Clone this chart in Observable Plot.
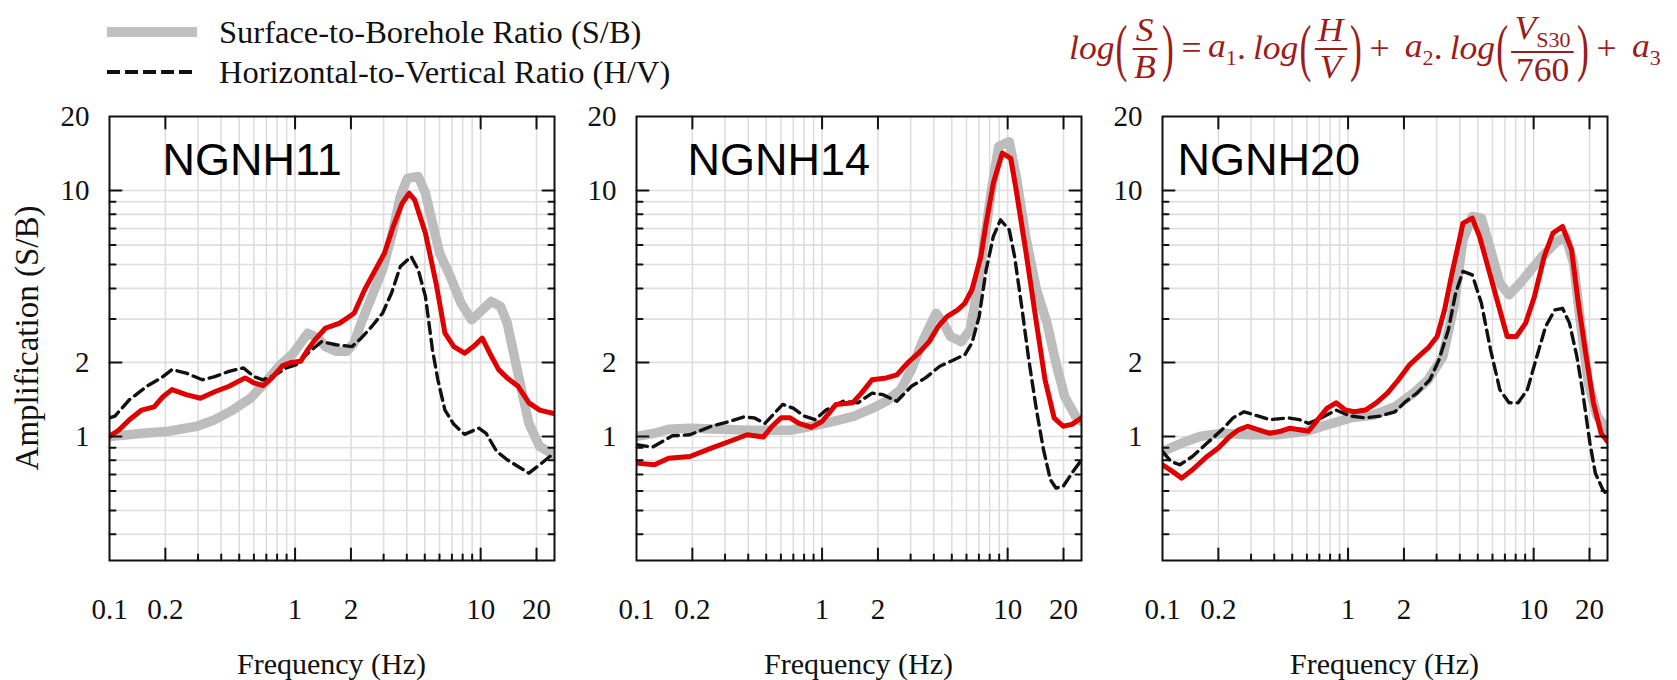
<!DOCTYPE html>
<html><head><meta charset="utf-8">
<script src="https://cdn.jsdelivr.net/npm/d3@7"></script>
<script src="https://cdn.jsdelivr.net/npm/@observablehq/plot@0.6"></script>
<style>
body{margin:0;background:#fff;}
#wrap{position:relative;width:1677px;height:680px;overflow:hidden;font-family:"Liberation Serif","Times New Roman",serif;color:#111;}
.abs{position:absolute;}
.leg{position:absolute;left:219px;font-size:32.5px;line-height:40px;white-space:nowrap;}
.xt{position:absolute;width:300px;text-align:center;font-size:30px;line-height:36px;white-space:nowrap;}
#ylab{position:absolute;font-size:33px;line-height:36px;white-space:nowrap;transform-origin:center center;}
#formula{position:absolute;left:1069px;display:flex;align-items:center;color:#9b1c1c;font-family:"Liberation Serif",serif;font-style:italic;font-size:33px;white-space:nowrap;transform-origin:left center;}
#formula .p{display:inline-block;font-style:normal;transform:scaleY(1.95);margin:0 1px;}
#formula .fr{display:inline-flex;flex-direction:column;align-items:center;margin:0 2px;}
#formula .fr .n{border-bottom:2px solid currentColor;padding:0 3px;line-height:1.05;}
#formula .fr .d{line-height:1.05;padding:0 3px;}
#formula .up{font-style:normal;}
#formula sub{font-size:0.62em;font-style:normal;}
#formula .op{font-style:normal;margin:0 6px;}
</style></head><body><div id="wrap"></div>
<script>
// ---------- data ----------
const stations = ["NGNH11", "NGNH14", "NGNH20"];
const xTickLabels = [0.1, 0.2, 1, 2, 10, 20];
const yTickLabels = [1, 2, 10, 20];
const seriesNames = ["Surface-to-Borehole Ratio (S/B)", "Horizontal-to-Vertical Ratio (H/V)"];

// NGNH11
const sb11F = [0.1,0.152,0.208,0.296,0.369,0.461,0.575,0.687,0.819,0.978,1.17,1.33,1.46,1.66,1.90,2.08,2.27,2.59,2.96,3.38,3.69,4.03,4.61,5.04,5.50,6.01,6.86,7.84,8.95,10.2,11.4,12.8,13.9,15.2,16.6,18.2,20.8,24.8];
const sb11V = [1.0,1.03,1.05,1.10,1.17,1.28,1.43,1.65,1.93,2.18,2.63,2.51,2.32,2.22,2.22,2.40,2.89,3.71,4.76,6.92,9.45,11.2,11.4,9.75,7.37,5.56,4.47,3.48,2.98,3.27,3.54,3.38,2.89,2.11,1.55,1.13,0.911,0.842];
const hv11F = [0.1,0.107,0.128,0.159,0.190,0.217,0.259,0.316,0.369,0.441,0.526,0.601,0.672,0.784,0.896,1.02,1.17,1.39,1.66,2.03,2.27,2.59,2.96,3.31,3.69,4.22,4.61,5.04,5.50,5.88,6.42,7.17,8.19,9.78,10.7,12.2,13.9,15.9,18.2,20.8,24.8];
const hv11V = [1.19,1.21,1.41,1.60,1.73,1.87,1.81,1.70,1.75,1.84,1.90,1.75,1.70,1.78,1.90,1.96,2.18,2.43,2.36,2.32,2.51,2.80,3.17,3.83,4.91,5.39,4.76,3.71,2.25,1.70,1.28,1.12,1.02,1.08,1.03,0.869,0.804,0.755,0.709,0.767,0.855];
const md11F = [0.1,0.112,0.128,0.149,0.174,0.194,0.217,0.259,0.309,0.369,0.441,0.538,0.601,0.672,0.750,0.857,0.957,1.07,1.17,1.28,1.46,1.74,2.08,2.37,2.71,3.03,3.38,3.78,4.12,4.41,5.04,5.75,6.42,7.17,8.19,9.15,10.2,11.2,12.5,13.9,15.9,18.2,20.8,24.8];
const md11V = [1.0,1.06,1.17,1.28,1.32,1.45,1.55,1.48,1.43,1.52,1.60,1.73,1.65,1.61,1.73,1.94,2.00,2.02,2.25,2.47,2.76,2.89,3.17,3.95,4.76,5.56,7.14,8.88,9.75,9.17,6.71,4.20,2.63,2.32,2.18,2.32,2.51,2.18,1.87,1.73,1.60,1.37,1.28,1.24];

// NGNH14
const sb14F = [0.1,0.125,0.149,0.194,0.289,0.395,0.514,0.672,0.875,1.14,1.49,1.86,2.22,2.65,3.03,3.45,3.95,4.12,4.51,4.92,5.62,6.28,6.86,7.50,8.19,8.95,10.2,11.2,12.5,14.3,16.3,18.2,20.3,23.2,25];
const sb14V = [1.0,1.03,1.07,1.08,1.07,1.06,1.06,1.06,1.10,1.15,1.21,1.30,1.39,1.55,1.87,2.40,2.98,3.17,2.89,2.55,2.43,2.71,3.95,6.30,10.1,15.1,15.8,11.1,6.50,3.95,2.89,1.99,1.45,1.21,1.15];
const hv14F = [0.1,0.122,0.156,0.194,0.253,0.316,0.378,0.431,0.492,0.614,0.702,0.801,0.915,1.05,1.30,1.56,1.86,2.12,2.53,3.03,3.61,4.31,5.14,5.88,6.42,7.02,7.66,8.37,9.15,10.2,10.9,11.9,13.0,14.3,15.6,17.0,18.2,19.9,22.2,25];
const hv14V = [0.925,0.905,1.006,1.016,1.10,1.15,1.20,1.19,1.13,1.35,1.30,1.21,1.17,1.28,1.39,1.37,1.50,1.48,1.39,1.60,1.73,1.93,2.05,2.15,2.40,3.07,4.76,6.50,7.60,6.92,5.39,3.38,2.05,1.28,0.883,0.667,0.617,0.626,0.709,0.804];
const md14F = [0.1,0.125,0.149,0.194,0.253,0.316,0.395,0.482,0.538,0.601,0.672,0.750,0.875,1.0,1.19,1.46,1.63,1.86,2.22,2.53,2.89,3.31,3.78,4.22,4.71,5.38,5.88,6.42,7.17,7.66,8.37,9.36,10.4,11.2,12.5,14.3,15.9,17.8,19.9,22.2,25];
const md14V = [0.779,0.767,0.816,0.829,0.897,0.954,1.016,0.994,1.10,1.19,1.19,1.13,1.09,1.15,1.35,1.37,1.50,1.70,1.73,1.78,1.99,2.18,2.43,2.80,3.07,3.27,3.48,3.95,5.39,7.37,10.7,14.2,13.5,9.75,5.74,2.89,1.70,1.19,1.10,1.12,1.19];

// NGNH20
const sb20F = [0.1,0.127,0.159,0.209,0.288,0.415,0.598,0.787,1.03,1.36,1.79,2.25,2.70,3.24,3.72,4.16,4.67,5.23,5.86,6.57,7.37,8.45,9.69,11.1,13.3,14.9,16.4,17.9,19.7,22.0,25];
const sb20V = [0.869,0.940,1.0,1.03,1.016,1.016,1.05,1.12,1.19,1.22,1.32,1.50,1.70,2.11,3.38,6.30,7.84,7.72,5.74,4.20,3.77,4.20,4.76,5.39,6.20,6.50,5.07,2.89,1.65,1.21,1.064];
const hv20F = [0.1,0.111,0.124,0.145,0.174,0.209,0.240,0.275,0.316,0.379,0.476,0.546,0.612,0.718,0.862,1.03,1.24,1.49,1.79,2.05,2.35,2.76,3.09,3.47,3.80,4.16,4.67,5.23,5.86,6.57,7.37,8.25,9.25,10.4,11.6,13.0,14.3,15.6,17.1,18.3,20.1,21.5,23.6,25];
const hv20V = [0.869,0.791,0.767,0.829,0.940,1.064,1.19,1.26,1.22,1.17,1.19,1.17,1.13,1.19,1.28,1.21,1.19,1.21,1.26,1.39,1.50,1.70,2.05,2.71,3.83,4.69,4.54,3.48,2.25,1.55,1.37,1.37,1.55,2.11,2.80,3.27,3.32,2.89,2.11,1.55,0.940,0.709,0.607,0.579];
const md20F = [0.1,0.113,0.127,0.145,0.174,0.200,0.230,0.257,0.288,0.330,0.379,0.435,0.487,0.546,0.612,0.687,0.769,0.862,0.966,1.08,1.24,1.42,1.63,1.87,2.15,2.46,2.70,3.02,3.31,3.63,3.98,4.16,4.67,5.11,5.73,6.42,7.20,8.07,9.05,10.1,11.4,12.7,14.3,16.0,17.5,19.2,21.0,23.1,25];
const md20V = [0.767,0.721,0.677,0.732,0.829,0.897,1.0,1.064,1.10,1.064,1.03,1.05,1.08,1.064,1.05,1.17,1.30,1.37,1.28,1.26,1.28,1.37,1.50,1.70,1.96,2.15,2.29,2.55,3.27,4.61,6.30,7.37,7.72,6.50,4.76,3.48,2.55,2.55,2.89,3.71,5.39,6.71,7.14,5.74,3.38,2.11,1.37,1.03,0.954];

// grid / tick values
const gridXVals = [0.2,0.3,0.4,0.5,0.6,0.7,0.8,0.9,1,2,3,4,5,6,7,8,9,10,20];
const gridYVals = [0.4,0.5,0.6,0.7,0.8,0.9,1,2,3,4,5,6,7,8,9,10];
const majorX = [0.2,1,2,10,20];
const minorX = [0.3,0.4,0.5,0.6,0.7,0.8,0.9,3,4,5,6,7,8,9];
const majorY = [1,2,10];
const minorY = [0.4,0.5,0.6,0.7,0.8,0.9,3,4,5,6,7,8,9];

// ---------- layout ----------
const wrap = document.getElementById("wrap");
const panelLefts = [109, 636, 1162];
const panelW = 445, panelTop = 116, panelH = 444;
const mL = 60, mR = 15, mT = 20, mB = 70;
const labelDx = [53, 51, 15];
const panels = [
  [sb11F, sb11V, hv11F, hv11V, md11F, md11V],
  [sb14F, sb14V, hv14F, hv14V, md14F, md14V],
  [sb20F, sb20V, hv20F, hv20V, md20F, md20V]
];
const zip = (F, V) => F.map((f, k) => ({f, v: V[k]}));
const fmt = d3.format("~g");
const tickShape = {draw(ctx, l) { ctx.moveTo(0, 0); ctx.lineTo(0, -l); }};
const tk = {stroke: "#111", strokeWidth: 2, anchor: "start", shape: tickShape};

panels.forEach((p, i) => {
  const [sbF, sbV, hvF, hvV, mdF, mdV] = p;
  const svg = Plot.plot({
    width: mL + panelW + mR, height: mT + panelH + mB,
    marginLeft: mL, marginRight: mR, marginTop: mT, marginBottom: mB,
    x: {type: "log", domain: [0.1, 25]},
    y: {type: "log", domain: [0.313, 20]},
    style: {fontFamily: '"Liberation Serif", "Times New Roman", serif', fontSize: "29px", color: "#111", background: "transparent", overflow: "visible"},
    marks: [
      Plot.gridX(gridXVals, {stroke: "#dedede", strokeOpacity: 1, strokeWidth: 1.6}),
      Plot.gridY(gridYVals, {stroke: "#dedede", strokeOpacity: 1, strokeWidth: 1.6}),
      Plot.line(zip(sbF, sbV), {x: "f", y: "v", stroke: "#bdbdbd", strokeWidth: 9.5, strokeLinejoin: "round", clip: true}),
      Plot.line(zip(hvF, hvV), {x: "f", y: "v", stroke: "#111", strokeWidth: 3.4, strokeDasharray: "11,6", clip: true}),
      Plot.line(zip(mdF, mdV), {x: "f", y: "v", stroke: "#e00000", strokeWidth: 5, strokeLinejoin: "round", clip: true}),
      Plot.frame({stroke: "#111", strokeWidth: 2}),
      // inward ticks
      Plot.vector(majorX, {x: d => d, frameAnchor: "bottom", rotate: 0, length: 12, ...tk}),
      Plot.vector(minorX, {x: d => d, frameAnchor: "bottom", rotate: 0, length: 6, ...tk}),
      Plot.vector(majorX, {x: d => d, frameAnchor: "top", rotate: 180, length: 12, ...tk}),
      Plot.vector(majorY, {y: d => d, frameAnchor: "left", rotate: 90, length: 12, ...tk}),
      Plot.vector(minorY, {y: d => d, frameAnchor: "left", rotate: 90, length: 6, ...tk}),
      Plot.vector(majorY, {y: d => d, frameAnchor: "right", rotate: 270, length: 12, ...tk}),
      Plot.vector(minorY, {y: d => d, frameAnchor: "right", rotate: 270, length: 6, ...tk}),
      // tick labels
      Plot.axisX(xTickLabels, {anchor: "bottom", tickSize: 0, tickPadding: 38, tickFormat: fmt, label: null}),
      Plot.axisY(yTickLabels, {anchor: "left", tickSize: 0, tickPadding: 20, tickFormat: fmt, label: null}),
      Plot.text([stations[i]], {frameAnchor: "top-left", dx: labelDx[i], dy: 27, lineAnchor: "top", textAnchor: "start", text: d => d, fontFamily: '"Liberation Sans", Arial, sans-serif', fontSize: 45, fill: "#000"})
    ]
  });
  svg.style.position = "absolute";
  svg.style.left = (panelLefts[i] - mL) + "px";
  svg.style.top = (panelTop - mT) + "px";
  wrap.appendChild(svg);

  const xl = document.createElement("div");
  xl.className = "xt";
  xl.textContent = "Frequency (Hz)";
  xl.style.left = (panelLefts[i] + panelW / 2 - 150) + "px";
  xl.style.top = (664 - 18) + "px";
  wrap.appendChild(xl);
});

// y axis title
const yl = document.createElement("div");
yl.id = "ylab";
yl.textContent = "Amplification (S/B)";
wrap.appendChild(yl);
const ylw = yl.offsetWidth;
yl.style.left = (27 - ylw / 2) + "px";
yl.style.top = (panelTop + panelH / 2 - 18) + "px";
yl.style.transform = "rotate(-90deg)";

// legend
const legSvg = d3.select(wrap).append("svg").attr("class", "abs")
  .style("left", "105px").style("top", "20px").attr("width", 96).attr("height", 70);
legSvg.append("line").attr("x1", 2).attr("x2", 92).attr("y1", 12).attr("y2", 12)
  .attr("stroke", "#c0c0c0").attr("stroke-width", 10);
legSvg.append("line").attr("x1", 2).attr("x2", 92).attr("y1", 52).attr("y2", 52)
  .attr("stroke", "#111").attr("stroke-width", 3.8).attr("stroke-dasharray", "13,5");
seriesNames.forEach((s, k) => {
  const d = document.createElement("div");
  d.className = "leg";
  d.textContent = s;
  d.style.top = (32 + 40 * k - 20) + "px";
  wrap.appendChild(d);
});

// formula
const fm = document.createElement("div");
fm.id = "formula";
fm.innerHTML =
  '<span>log</span><span class="p">(</span><span class="fr"><span class="n">S</span><span class="d">B</span></span><span class="p">)</span>' +
  '<span class="op">=</span><span>a<sub>1</sub></span><span class="up">.</span><span>&thinsp;log</span>' +
  '<span class="p">(</span><span class="fr"><span class="n">H</span><span class="d">V</span></span><span class="p">)</span>' +
  '<span class="op">+&nbsp;</span><span>a<sub>2</sub></span><span class="up">.</span><span>&thinsp;log</span>' +
  '<span class="p">(</span><span class="fr"><span class="n">V<sub>S30</sub></span><span class="d up">760</span></span><span class="p">)</span>' +
  '<span class="op">+&nbsp;</span><span>a<sub>3</sub></span>';
wrap.appendChild(fm);
const fw = fm.offsetWidth, fh = fm.offsetHeight;
fm.style.top = (49 - fh / 2) + "px";
fm.style.transform = `scaleX(${592 / fw})`;
</script>
</body></html>
